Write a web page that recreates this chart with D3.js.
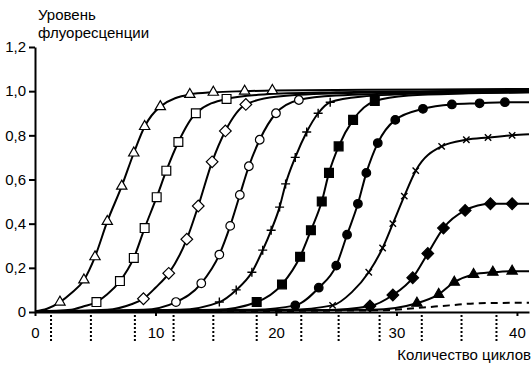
<!DOCTYPE html>
<html>
<head>
<meta charset="utf-8">
<script src="https://cdn.jsdelivr.net/npm/d3@7"></script>
<style>
  body { margin: 0; background: #fff; }
  svg { display: block; font-family: "Liberation Sans", Arial, sans-serif; }
</style>
</head>
<body>
<div id="chart"></div>
<script>
const width = 531;
const height = 365;

// points: [cycle, level, marker?]
const triOpen = [[0,0.003],[1,0.015],[2.07,0.045,1],[3,0.085],[4.06,0.145,1],[4.98,0.25,1],[6,0.41,1],[7.2,0.57,1],[8.2,0.72,1],[9.1,0.84,1],[10.4,0.93,1],[12.85,0.985,1],[14.8,0.995,1],[17.4,1.0,1],[19.7,1.003,1],[25,1.005],[33,1.008],[41,1.01]];
const sqOpen = [[0,0.003],[3,0.01],[4,0.025],[5.1,0.045,1],[6,0.08],[7.05,0.14,1],[8.2,0.245,1],[9.1,0.38,1],[10.1,0.52,1],[10.9,0.64,1],[11.9,0.77,1],[13.35,0.9,1],[15.9,0.965,1],[19,0.985],[25,0.995],[33,1.0],[41,1.005]];
const diaOpen = [[0,0.002],[6,0.01],[8,0.035],[9,0.06,1],[10,0.11],[11.1,0.175,1],[12.6,0.33,1],[13.55,0.48,1],[14.7,0.68,1],[15.8,0.82,1],[17.5,0.94,1],[20,0.975],[25,0.99],[33,0.997],[41,1.0]];
const circOpen = [[0,0.002],[9,0.01],[11.7,0.045,1],[13.8,0.13,1],[15.3,0.26,1],[16.2,0.39,1],[17.0,0.53,1],[17.75,0.66,1],[18.65,0.78,1],[20,0.9,1],[21.9,0.96,1],[25,0.98],[33,0.993],[41,0.997]];
const plusA = [[0,0.002],[12,0.01],[15.3,0.045,1],[16.7,0.1,1],[18,0.18,1],[18.9,0.28,1],[19.6,0.37,1],[20.3,0.475,1],[20.8,0.58,1],[21.6,0.7,1],[22.55,0.815,1],[23.5,0.9,1],[24.5,0.95,1],[27,0.975],[33,0.99],[41,0.995]];
const sqFill = [[0,0.002],[15,0.01],[18.4,0.045,1],[20.5,0.125,1],[22,0.25,1],[22.9,0.37,1],[23.8,0.5,1],[24.4,0.63,1],[25.2,0.75,1],[26.4,0.87,1],[28.2,0.955,1],[31,0.98],[36,0.99],[41,0.995]];
const circFill = [[0,0.002],[18,0.01],[21.6,0.03,1],[23.55,0.11,1],[25,0.21,1],[25.9,0.35,1],[26.8,0.49,1],[27.5,0.63,1],[28.45,0.765,1],[29.9,0.87,1],[32.2,0.92,1],[34.6,0.94,1],[36.9,0.945,1],[39,0.95,1],[41,0.95]];
const crossB = [[0,0.002],[21,0.01],[24.7,0.03,1],[26.3,0.09],[27.7,0.18,1],[28.85,0.29,1],[29.7,0.4,1],[30.65,0.525,1],[31.6,0.64,1],[33.75,0.75,1],[35.8,0.78,1],[37.6,0.79,1],[39.6,0.8,1],[41,0.805]];
const diaFill = [[0,0.001],[24,0.008],[27.8,0.027,1],[29.7,0.077,1],[31.35,0.155,1],[32.6,0.265,1],[33.9,0.38,1],[35.7,0.46,1],[37.8,0.49,1],[39.6,0.49,1],[41,0.49]];
const triFill = [[0,0.001],[28,0.01],[31.7,0.04,1],[33.5,0.08,1],[34.8,0.135,1],[36.4,0.17,1],[38,0.18,1],[39.6,0.185,1],[41,0.185]];
const noTemplate = [[0,0.001],[29,0.008],[31.7,0.018],[34.4,0.03],[36.9,0.04],[41,0.042]];

const thresholdCycles = [1.33, 4.64, 8.29, 11.5, 14.8, 18.4, 22.1, 25.2, 28.6, 32.1, 35.4, 38.3];
const xTicks = [0, 10, 20, 30, 40];
const yTicks = [0, 0.2, 0.4, 0.6, 0.8, 1.0, 1.2];

const series = [
    { pts: triOpen, mark: "triangle", fill: "#fff" },
    { pts: sqOpen, mark: "square", fill: "#fff" },
    { pts: diaOpen, mark: "diamond", fill: "#fff" },
    { pts: circOpen, mark: "circle", fill: "#fff" },
    { pts: plusA, mark: "plus" },
    { pts: sqFill, mark: "square", fill: "#000" },
    { pts: circFill, mark: "circle", fill: "#000" },
    { pts: crossB, mark: "cross" },
    { pts: diaFill, mark: "diamond", fill: "#000" },
    { pts: triFill, mark: "triangle", fill: "#000" },
    { pts: noTemplate, mark: null, dash: "7,5" }
];

const x = d3.scaleLinear().domain([0, 41]).range([35, 529]);
const y = d3.scaleLinear().domain([0, 1.2]).range([312, 47]);

const svg = d3.select("#chart").append("svg")
    .attr("width", width)
    .attr("height", height);

// threshold marks under the axis
svg.append("g").selectAll("line")
    .data(thresholdCycles)
    .enter().append("line")
    .attr("x1", d => x(d)).attr("x2", d => x(d))
    .attr("y1", 315).attr("y2", 342)
    .attr("stroke", "#000")
    .attr("stroke-width", 2)
    .attr("stroke-dasharray", "2,2");

const line = d3.line()
    .x(d => x(d[0]))
    .y(d => y(d[1]))
    .curve(d3.curveMonotoneX);

svg.append("g").selectAll("path")
    .data(series)
    .enter().append("path")
    .attr("d", d => line(d.pts))
    .attr("fill", "none")
    .attr("stroke", "#000")
    .attr("stroke-width", 2)
    .attr("stroke-dasharray", d => d.dash || null);

const symbols = {
    triangle: d3.symbol().type(d3.symbolTriangle).size(46)(),
    square: d3.symbol().type(d3.symbolSquare).size(78)(),
    diamond: d3.symbol().type(d3.symbolSquare).size(68)(),
    circle: d3.symbol().type(d3.symbolCircle).size(58)()
};

series.forEach(function (s) {
    if (!s.mark) return;
    const g = svg.append("g");
    const marks = g.selectAll("g")
        .data(s.pts.filter(p => p[2]))
        .enter().append("g")
        .attr("transform", function (p) {
            let t = "translate(" + x(p[0]) + "," + y(p[1]) + ")";
            if (s.mark === "diamond" || s.mark === "cross") t += " rotate(45)";
            return t;
        });
    if (s.mark === "plus" || s.mark === "cross") {
        marks.append("path")
            .attr("d", "M-4.5,0H4.5M0,-4.5V4.5")
            .attr("stroke", "#000")
            .attr("stroke-width", 1.4);
    } else {
        marks.append("path")
            .attr("d", symbols[s.mark])
            .attr("fill", s.fill)
            .attr("stroke", "#000")
            .attr("stroke-width", 1.2);
    }
});

const yAxis = svg.append("g")
    .attr("transform", "translate(35,0)")
    .call(d3.axisLeft(y)
        .tickValues(yTicks)
        .tickSize(6)
        .tickSizeOuter(0)
        .tickPadding(3)
        .tickFormat(d => d === 0 ? "0" : d3.format(".1f")(d).replace(".", ",")));

const xAxis = svg.append("g")
    .attr("transform", "translate(0,312)")
    .call(d3.axisBottom(x)
        .tickValues(xTicks)
        .tickSize(4)
        .tickSizeOuter(0)
        .tickPadding(11));

[yAxis, xAxis].forEach(function (a) {
    a.select(".domain").attr("stroke-width", 2);
    a.selectAll(".tick line").attr("stroke-width", 2);
    a.selectAll("text")
        .style("font-size", "15px")
        .style("font-family", "Liberation Sans, Arial, sans-serif")
        .attr("fill", "#000");
});

svg.append("text")
    .attr("x", 38).attr("y", 20)
    .style("font-size", "15px")
    .text("Уровень");
svg.append("text")
    .attr("x", 38).attr("y", 38)
    .style("font-size", "15px")
    .text("флуоресценции");
svg.append("text")
    .attr("x", 531).attr("y", 360)
    .style("font-size", "15px")
    .style("text-anchor", "end")
    .text("Количество циклов");
</script>
</body>
</html>
